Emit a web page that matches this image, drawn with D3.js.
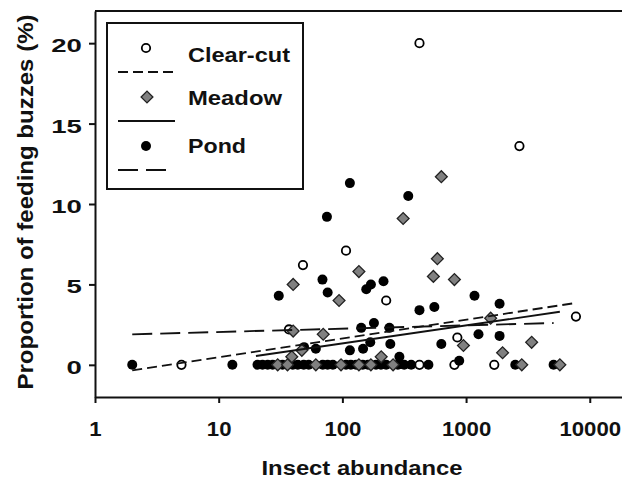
<!DOCTYPE html>
<html>
<head>
<meta charset="utf-8">
<script src="https://cdn.jsdelivr.net/npm/d3@7"></script>
<style>
    body { margin: 0; background: #ffffff; }
    svg text { font-family: "Liberation Sans", Arial, sans-serif; font-weight: bold; fill: #111111; }
</style>
</head>
<body>
<script>

// axis ticks
const xTicks = [1, 10, 100, 1000, 10000];
const yTicks = [0, 5, 10, 15, 20];

// clear-cut sites (open circles)
const clearX = [420, 2700, 107, 48, 226, 37, 850, 7730, 5, 420, 805, 1690];
const clearY = [20.0, 13.6, 7.1, 6.2, 4.0, 2.2, 1.7, 3.0, 0, 0, 0, 0];

// meadow sites (grey diamonds)
const meadowX = [631, 310, 586, 544, 805, 136, 94, 1580, 952, 3390, 1973, 206,
                 70, 40, 40, 39, 47, 30, 36, 61, 97.5, 136, 170, 257, 2820, 5730];
const meadowY = [11.7, 9.1, 6.6, 5.5, 5.3, 5.8, 4.0, 2.9, 1.2, 1.4, 0.75, 0.5,
                 1.9, 5.0, 2.1, 0.5, 0.9, 0, 0, 0, 0, 0, 0, 0, 0, 0];

// pond sites (black dots)
const pondX = [115, 75, 341, 30.6, 69, 76, 156, 170, 215, 420, 554, 1170, 1866,
               142, 180, 240, 168, 244, 631, 1260, 1866, 49, 61, 115, 147, 289, 880,
               2, 12.9, 20.6, 22.6, 24.9, 27.3, 32.8, 39.7, 43.6, 48.7, 53.4, 69.4,
               76, 83.7, 107, 117, 129, 146, 161, 187, 205, 226, 281, 316, 360, 496,
               2500, 5100];
const pondY = [11.3, 9.2, 10.5, 4.3, 5.3, 4.5, 4.7, 5.0, 5.2, 3.4, 3.6, 4.3, 3.8,
               2.3, 2.6, 2.3, 1.4, 1.3, 1.3, 1.9, 1.8, 1.1, 1.0, 0.9, 1.0, 0.5, 0.25,
               0, 0, 0, 0, 0, 0, 0, 0, 0, 0, 0, 0,
               0, 0, 0, 0, 0, 0, 0, 0, 0, 0, 0, 0, 0, 0,
               0, 0];

// fitted regression lines (start and end points)
const clearFitX = [2, 7730];
const clearFitY = [-0.35, 3.85];
const meadowFitX = [20, 5730];
const meadowFitY = [0.55, 3.3];
const pondFitX = [2, 5100];
const pondFitY = [1.9, 2.6];

const legendNames = ["Clear-cut", "Meadow", "Pond"];


window.onload = function() {
    main();
};


/**
 * Builds the whole figure.
 */
function main() {
    let w = 622;
    let h = 481;
    let dims = {left: 95, top: 11, right: 627, bottom: 397};

    let svg = d3.select("body")
                .append("svg")
                .attr("width", w)
                .attr("height", h);

    // log x scale, linear y scale
    let x = d3.scaleLog()
              .domain([1, 20000])
              .range([dims.left, dims.right]);
    let y = d3.scaleLinear()
              .domain([-2, 22])
              .range([dims.bottom, dims.top]);

    let styles = {
        clear: {dash: "10,5"},
        meadow: {dash: null},
        pond: {dash: "20,8"}
    };

    drawAxes(svg, x, y, dims);

    // markers: clear-cut, then pond, then meadow on top
    drawCircles(svg, zip(clearX, clearY), x, y, "open");
    drawCircles(svg, zip(pondX, pondY), x, y, "filled");
    drawDiamonds(svg, zip(meadowX, meadowY), x, y);

    // regression lines
    drawFit(svg, zip(clearFitX, clearFitY), x, y, styles.clear.dash);
    drawFit(svg, zip(meadowFitX, meadowFitY), x, y, styles.meadow.dash);
    drawFit(svg, zip(pondFitX, pondFitY), x, y, styles.pond.dash);

    drawLegend(svg, styles);
}


/**
 * Pairs two arrays into point objects.
 */
function zip(xs, ys) {
    return xs.map(function(d, i) {
        return {x: d, y: ys[i]};
    });
}


/**
 * Draws both axes, the top frame line and the axis titles.
 */
function drawAxes(svg, x, y, dims) {
    let xAxis = d3.axisBottom(x)
                  .tickValues(xTicks)
                  .tickFormat(d3.format("d"))
                  .tickSize(6)
                  .tickSizeOuter(0)
                  .tickPadding(19);

    let gx = svg.append("g")
                .attr("transform", "translate(0," + dims.bottom + ")")
                .call(xAxis);
    gx.selectAll("text")
      .style("font-size", "20px")
      .attr("transform", "scale(1.11,1)");

    let yAxis = d3.axisLeft(y)
                  .tickValues(yTicks)
                  .tickSize(6)
                  .tickSizeOuter(0)
                  .tickPadding(3);

    let gy = svg.append("g")
                .attr("transform", "translate(" + dims.left + ",0)")
                .call(yAxis);
    gy.selectAll("text")
      .style("font-size", "19px")
      .attr("dy", "0.45em")
      .attr("transform", "scale(1.45,1)");

    svg.selectAll(".domain, .tick line")
       .attr("stroke", "#111111")
       .attr("stroke-width", 2);

    // top frame line
    svg.append("line")
       .attr("x1", dims.left)
       .attr("x2", dims.right)
       .attr("y1", dims.top)
       .attr("y2", dims.top)
       .attr("stroke", "#111111")
       .attr("stroke-width", 2);

    // axis titles
    svg.append("text")
       .attr("x", 362)
       .attr("y", 475)
       .attr("text-anchor", "middle")
       .attr("textLength", 201)
       .attr("lengthAdjust", "spacingAndGlyphs")
       .style("font-size", "21px")
       .text("Insect abundance");

    svg.append("text")
       .attr("transform", "translate(33,202) rotate(-90)")
       .attr("text-anchor", "middle")
       .attr("textLength", 375)
       .attr("lengthAdjust", "spacingAndGlyphs")
       .style("font-size", "22px")
       .text("Proportion of feeding buzzes (%)");
}


/**
 * Draws open or filled circle markers.
 */
function drawCircles(svg, points, x, y, kind) {
    svg.append("g")
       .selectAll("circle")
       .data(points)
       .enter()
       .append("circle")
       .attr("cx", d => x(d.x))
       .attr("cy", d => y(d.y))
       .attr("r", kind == "open" ? 4.2 : 5)
       .attr("fill", kind == "open" ? "#ffffff" : "#000000")
       .attr("stroke", "#000000")
       .attr("stroke-width", kind == "open" ? 1.8 : 0);
}


/**
 * Draws grey diamond markers.
 */
function drawDiamonds(svg, points, x, y) {
    let symbol = d3.symbol().type(d3.symbolSquare).size(70);

    svg.append("g")
       .selectAll("path")
       .data(points)
       .enter()
       .append("path")
       .attr("d", symbol)
       .attr("transform", d => "translate(" + x(d.x) + "," + y(d.y) + ") rotate(45)")
       .attr("fill", "#808080")
       .attr("stroke", "#222222")
       .attr("stroke-width", 1.3);
}


/**
 * Draws one regression line.
 */
function drawFit(svg, points, x, y, dash) {
    let line = d3.line()
                 .x(d => x(d.x))
                 .y(d => y(d.y));

    svg.append("path")
       .datum(points)
       .attr("d", line)
       .attr("fill", "none")
       .attr("stroke", "#111111")
       .attr("stroke-width", 1.8)
       .attr("stroke-dasharray", dash);
}


/**
 * Draws the boxed legend in the upper left corner.
 */
function drawLegend(svg, styles) {
    let g = svg.append("g");

    g.append("rect")
     .attr("x", 107)
     .attr("y", 23)
     .attr("width", 196)
     .attr("height", 166)
     .attr("fill", "#ffffff")
     .attr("stroke", "#111111")
     .attr("stroke-width", 2);

    let rows = [48, 97, 146];
    let baselines = [62, 105, 153];
    let lengths = [102, 94, 58];
    let dashes = [styles.clear.dash, styles.meadow.dash, styles.pond.dash];
    let lineEnds = [175, 175, 167];

    // markers
    g.append("circle")
     .attr("cx", 146).attr("cy", rows[0]).attr("r", 4.2)
     .attr("fill", "#ffffff").attr("stroke", "#000000").attr("stroke-width", 1.8);
    g.append("path")
     .attr("d", d3.symbol().type(d3.symbolSquare).size(70))
     .attr("transform", "translate(147," + rows[1] + ") rotate(45)")
     .attr("fill", "#808080").attr("stroke", "#222222").attr("stroke-width", 1.3);
    g.append("circle")
     .attr("cx", 146).attr("cy", rows[2]).attr("r", 5)
     .attr("fill", "#000000");

    legendNames.forEach(function(name, i) {
        g.append("text")
         .attr("x", 188)
         .attr("y", baselines[i])
         .attr("textLength", lengths[i])
         .attr("lengthAdjust", "spacingAndGlyphs")
         .style("font-size", "21px")
         .text(name);

        g.append("line")
         .attr("x1", 118)
         .attr("x2", lineEnds[i])
         .attr("y1", rows[i] + 24)
         .attr("y2", rows[i] + 24)
         .attr("stroke", "#111111")
         .attr("stroke-width", 1.8)
         .attr("stroke-dasharray", dashes[i]);
    });
}

</script>
</body>
</html>
